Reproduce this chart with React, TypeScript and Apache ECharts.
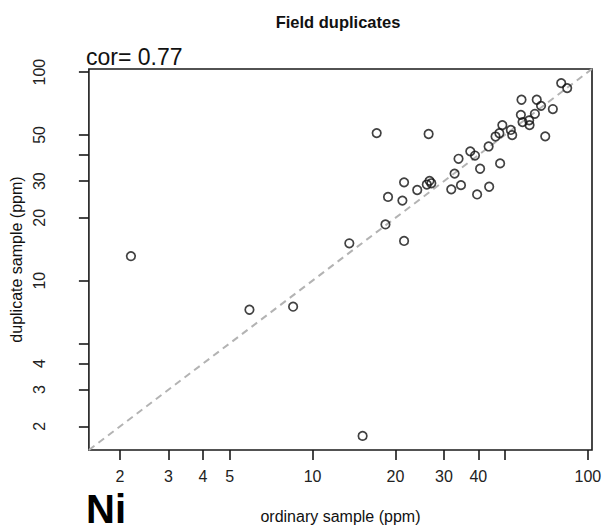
import React, { useEffect, useRef } from "react";
import * as echarts from "echarts";

const ordinary = [2.19, 5.9, 8.5, 15.2, 13.6, 21.5, 18.4, 18.8, 21.2, 21.5, 24.0, 26.6, 26.0, 27.0, 17.1, 26.4, 31.9, 34.6, 32.8, 33.9, 37.4, 38.9, 39.6, 40.6, 43.6, 43.8, 48.0, 46.2, 47.7, 48.9, 52.5, 53.1, 57.1, 57.4, 57.9, 61.2, 61.4, 64.2, 65.2, 67.6, 74.6, 70.0, 80.0, 84.1];
const duplicate = [13.1, 7.25, 7.5, 1.8, 15.1, 15.5, 18.6, 25.2, 24.2, 29.6, 27.2, 30.1, 28.9, 29.3, 51.0, 50.5, 27.4, 28.7, 32.6, 38.4, 41.7, 39.8, 25.9, 34.4, 44.0, 28.2, 36.5, 49.1, 50.9, 55.7, 52.8, 49.9, 62.4, 73.7, 57.6, 58.7, 55.7, 63.1, 73.7, 68.9, 66.5, 49.2, 88.6, 83.8];

const axisMin = 1.541;
const axisMax = 103.5;
const tickValues = [2, 3, 4, 5, 10, 20, 30, 40, 50, 100];
const xLabelValues = [2, 3, 4, 5, 10, 20, 30, 40, 100];
const yLabelValues = [2, 3, 4, 10, 20, 30, 50, 100];
const identityLine = [axisMin, axisMax];

const FONT = "Liberation Sans, Arial, Helvetica, sans-serif";

export default function App() {
  const ref = useRef<HTMLDivElement>(null);
  useEffect(() => {
    if (!ref.current) return;
    const chart = echarts.init(ref.current, null, { renderer: "svg" });
    const fmt = (v: any) => String(Math.round(Number(v)));
    chart.setOption({
      animation: false,
      backgroundColor: "#ffffff",
      textStyle: { fontFamily: FONT },
      grid: {
        left: 85,
        top: 69,
        right: 16,
        bottom: 81,
        show: true,
        borderColor: "#1a1a1a",
        borderWidth: 1.6,
        backgroundColor: "transparent",
      },
      xAxis: {
        type: "log",
        min: axisMin,
        max: axisMax,
        name: "ordinary sample (ppm)",
        nameLocation: "middle",
        nameGap: 58,
        nameTextStyle: { fontFamily: FONT, fontSize: 16, color: "#111" },
        axisLine: { show: false },
        splitLine: { show: false },
        minorTick: { show: false },
        axisTick: {
          show: true,
          inside: false,
          length: 10,
          customValues: tickValues,
          lineStyle: { color: "#1a1a1a", width: 1.6 },
        },
        axisLabel: {
          show: true,
          margin: 18.5,
          customValues: xLabelValues,
          formatter: fmt,
          fontFamily: FONT,
          fontSize: 16,
          color: "#222",
        },
      },
      yAxis: {
        type: "log",
        min: axisMin,
        max: axisMax,
        name: "duplicate sample (ppm)",
        nameLocation: "middle",
        nameGap: 57,
        nameTextStyle: { fontFamily: FONT, fontSize: 16, color: "#111" },
        axisLine: { show: false },
        splitLine: { show: false },
        minorTick: { show: false },
        axisTick: {
          show: true,
          inside: false,
          length: 10,
          customValues: tickValues,
          lineStyle: { color: "#1a1a1a", width: 1.6 },
        },
        axisLabel: {
          show: true,
          margin: 41,
          rotate: 90,
          customValues: yLabelValues,
          formatter: fmt,
          fontFamily: FONT,
          fontSize: 16,
          color: "#222",
        },
      },
      graphic: [
        {
          type: "text",
          x: 338,
          y: 13,
          style: {
            text: "Field duplicates",
            align: "center",
            verticalAlign: "top",
            fontFamily: FONT,
            fontWeight: "bold",
            fontSize: 16.5,
            fill: "#111",
          },
        },
        {
          type: "text",
          left: 86,
          top: 45,
          style: { text: "cor= 0.77", fontFamily: FONT, fontSize: 23, fill: "#111" },
        },
        {
          type: "text",
          left: 86,
          top: 489,
          style: {
            text: "Ni",
            fontFamily: FONT,
            fontSize: 40,
            lineHeight: 30,
            fontWeight: "bold",
            fill: "#000",
          },
        },
      ],
      series: [
        {
          type: "line",
          data: identityLine.map((v) => [v, v]),
          symbol: "none",
          silent: true,
          lineStyle: { color: "#b3b3b3", width: 2, type: [7, 5] },
          z: 1,
        },
        {
          type: "scatter",
          data: ordinary.map((x, i) => [x, duplicate[i]]),
          symbol: "circle",
          symbolSize: 8.5,
          itemStyle: { color: "rgba(0,0,0,0)", borderColor: "#111", borderWidth: 1.7 },
          z: 2,
        },
      ],
    });
    return () => chart.dispose();
  }, []);
  return (
    <div
      ref={ref}
      style={{ position: "absolute", left: 0, top: 0, width: 608, height: 531 }}
    />
  );
}
